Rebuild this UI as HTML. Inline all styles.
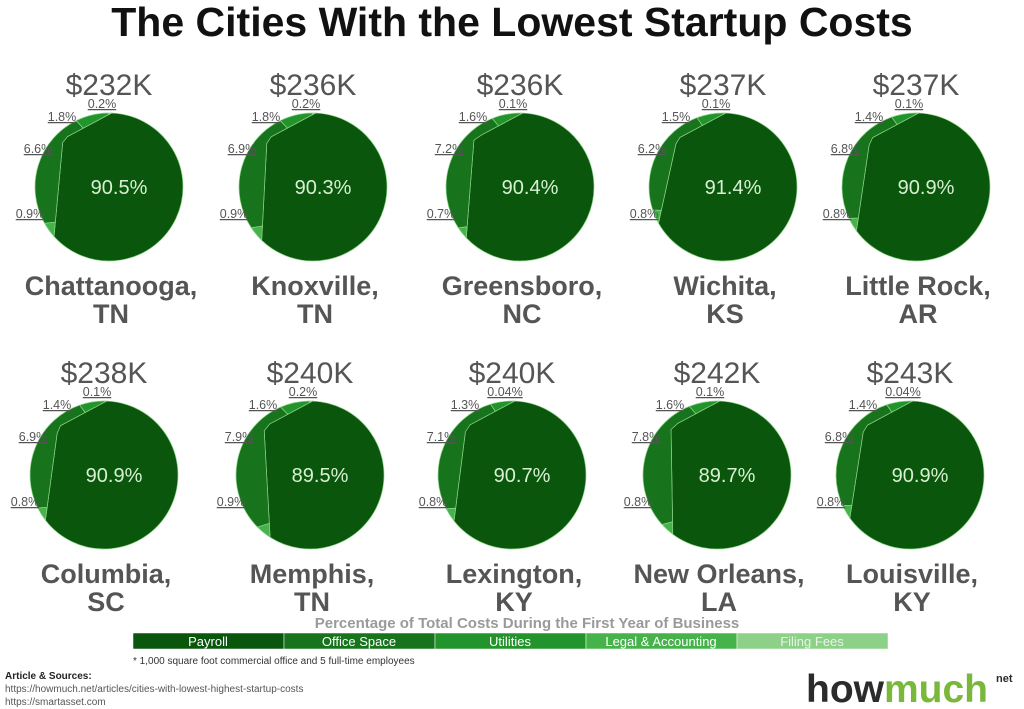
<!DOCTYPE html>
<html><head><meta charset="utf-8"><style>
body{margin:0;background:#fff;width:1024px;height:709px;overflow:hidden;font-family:"Liberation Sans",sans-serif}
svg{display:block}
</style></head><body>
<svg id="c" width="1024" height="709">
<text x="512" y="36" text-anchor="middle" font-size="41" font-weight="bold" fill="#111">The Cities With the Lowest Startup Costs</text>
<text x="527" y="628" text-anchor="middle" font-size="15" font-weight="bold" fill="#9a9a9a">Percentage of Total Costs During the First Year of Business</text>
<g id="legend"></g>
<text x="133" y="664" font-size="10" fill="#333">* 1,000 square foot commercial office and 5 full-time employees</text>
<text x="5" y="679" font-size="10" font-weight="bold" fill="#222">Article &amp; Sources:</text>
<text x="5" y="692" font-size="10" fill="#555">https://howmuch.net/articles/cities-with-lowest-highest-startup-costs</text>
<text x="5" y="705" font-size="10" fill="#555">https://smartasset.com</text>
<text x="806" y="702" font-size="39" font-weight="bold"><tspan fill="#2b2b2b">how</tspan><tspan fill="#7ab83c">much</tspan></text>
<text x="996" y="682" font-size="11" font-weight="bold" fill="#2b2b2b">net</text>
</svg>
<script>
const cities=["Chattanooga,|TN","Knoxville,|TN","Greensboro,|NC","Wichita,|KS","Little Rock,|AR","Columbia,|SC","Memphis,|TN","Lexington,|KY","New Orleans,|LA","Louisville,|KY"];
const totals=["$232K","$236K","$236K","$237K","$237K","$238K","$240K","$240K","$242K","$243K"];
const payroll=[90.5,90.3,90.4,91.4,90.9,90.9,89.5,90.7,89.7,90.9];
const legal=[0.9,0.9,0.7,0.8,0.8,0.8,0.9,0.8,0.8,0.8];
const office=[6.6,6.9,7.2,6.2,6.8,6.9,7.9,7.1,7.8,6.8];
const utilities=[1.8,1.8,1.6,1.5,1.4,1.4,1.6,1.3,1.6,1.4];
const filing=["0.2","0.2","0.1","0.1","0.1","0.1","0.2","0.04","0.1","0.04"];
const legendNames=["Payroll","Office Space","Utilities","Legal & Accounting","Filing Fees"];
const colors={payroll:"#0a560c",office:"#17741d",utilities:"#23942c",legal:"#45b34a",filing:"#8dd088"};
const svg=document.getElementById('c');const NS="http://www.w3.org/2000/svg";
function mk(t,a,p){const e=document.createElementNS(NS,t);for(const k in a)e.setAttribute(k,a[k]);(p||svg).appendChild(e);return e;}
const cxs=[[109,313,520,723,916],[104,310,512,717,910]];const cys=[187,475];const R=74;
function pa(cx,cy,deg){const a=deg*Math.PI/180;return [cx+R*Math.sin(a),cy-R*Math.cos(a)];}
function lerp(a,b,t){return [a[0]+(b[0]-a[0])*t,a[1]+(b[1]-a[1])*t];}
function lbl(x,y,t,name){
 const e=mk('text',{x:x,y:y,"font-size":12.5,fill:"#555","text-anchor":"middle","text-decoration":"underline"});e.textContent=t;
 
 
}
for(let i=0;i<10;i++){
 const cx=cxs[Math.floor(i/5)][i%5],cy=cys[Math.floor(i/5)];
 const rest=[legal[i],office[i],utilities[i],parseFloat(filing[i])];
 const restSum=rest.reduce((a,b)=>a+b,0);
 const tot=restSum+payroll[i];
 const span=restSum/tot/0.095*134;
 const endA=362, startA=endA-span;
 const pTop=pa(cx,cy,endA), pBot=pa(cx,cy,startA), K=[cx-46,cy-48];
 function inner(t){
  const l1=Math.hypot(K[0]-pBot[0],K[1]-pBot[1]),l2=Math.hypot(pTop[0]-K[0],pTop[1]-K[1]);
  const d=t*(l1+l2); return d<=l1?lerp(pBot,K,d/l1):lerp(K,pTop,(d-l1)/l2);
 }
 const pp=mk('path',{d:`M${pTop[0]},${pTop[1]}A${R},${R} 0 1 1 ${pBot[0]},${pBot[1]}L${K[0]},${K[1]}Z`,fill:colors.payroll,stroke:"#8fd68a","stroke-width":0.7});
 
 
 const keys=["legal","office","utilities","filing"];
 let cum=0;
 rest.forEach((v,k)=>{
  const t0=cum/restSum,t1=(cum+v)/restSum;cum+=v;
  const a0=startA+span*t0,a1=startA+span*t1;
  let d=`M${inner(t0).join(',')}`;
  const o0=pa(cx,cy,a0),o1=pa(cx,cy,a1);
  d+=`L${o0.join(',')}A${R},${R} 0 0 1 ${o1.join(',')}`;
  const steps=12;for(let s=steps;s>=0;s--){d+=`L${inner(t0+(t1-t0)*s/steps).join(',')}`;}
  d+='Z';
  const e=mk('path',{d:d,fill:colors[keys[k]],stroke:"#8fd68a","stroke-width":0.7});
  
  
 });
 const t=mk('text',{x:cx,y:cy-92,"text-anchor":"middle","font-size":30,fill:"#555"});t.textContent=totals[i];
 
 
 const c=mk('text',{x:cx+10,y:cy+7,"text-anchor":"middle","font-size":20,fill:"#d8f0d2"});c.textContent=payroll[i].toFixed(1)+"%";
 
 
 lbl(cx-7,cy-79,filing[i]+"%",'filing-label-'+i);
 lbl(cx-47,cy-66,utilities[i].toFixed(1)+"%",'utilities-label-'+i);
 lbl(cx-71,cy-34,office[i].toFixed(1)+"%",'office-label-'+i);
 lbl(cx-79,cy+31,legal[i].toFixed(1)+"%",'legal-label-'+i);
 const parts=cities[i].split("|");
 parts.forEach((p,j)=>{const n=mk('text',{x:cx+2,y:cy+108+j*28,"text-anchor":"middle","font-size":27,"font-weight":"bold",fill:"#555"});n.textContent=p;
  
  });
}
const lg=document.getElementById('legend');const lc=[colors.payroll,colors.office,colors.utilities,colors.legal,colors.filing];
legendNames.forEach((n,k)=>{
 const r=mk('rect',{x:133+k*151,y:633,width:151,height:16,fill:lc[k],stroke:"#fff","stroke-width":0.5},lg);
 
 
 const t=mk('text',{x:133+k*151+75,y:646,"text-anchor":"middle","font-size":13,fill:k==4?"#e8f5e4":"#fff"},lg);t.textContent=n;
 
 
});
</script>
</body></html>
